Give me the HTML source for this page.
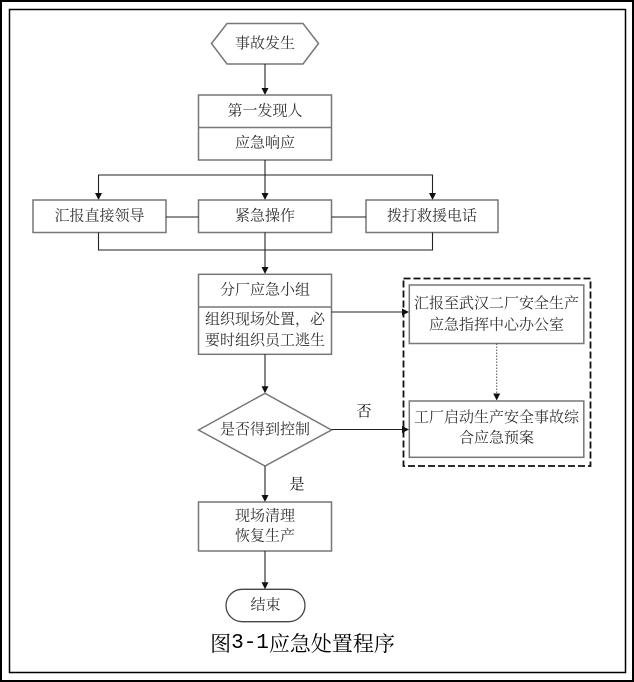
<!DOCTYPE html>
<html>
<head>
<meta charset="utf-8">
<style>
  html, body { margin: 0; padding: 0; background: #fff; }
  body { width: 634px; height: 682px; overflow: hidden; }
  svg { display: block; }
  .t { font-family: "Liberation Serif", "Noto Serif CJK SC", "Noto Sans CJK SC", serif; font-size: 15px; fill: #333; }
  .lbl { font-family: "Liberation Serif", "Noto Serif CJK SC", serif; font-size: 15px; fill: #111; }
  .cap { font-family: "Noto Serif CJK SC", "Liberation Serif", serif; font-size: 21px; fill: #000; }
  .mono { font-family: "Liberation Mono", monospace; }
  .box { fill: #fff; stroke: #777; stroke-width: 1.5; }
  .ln { stroke: #222; stroke-width: 1.1; fill: none; }
  .ah { fill: #111; }
</style>
</head>
<body>
<svg width="634" height="682" viewBox="0 0 634 682" xmlns="http://www.w3.org/2000/svg">
  <!-- frames -->
  <rect x="1" y="1" width="632" height="680" fill="none" stroke="#000" stroke-width="2"/>
  <rect x="9.5" y="9.5" width="616" height="663" fill="none" stroke="#000" stroke-width="1.5"/>

  <!-- start hexagon -->
  <polygon class="box" points="211.5,43.5 227,23.5 303,23.5 318.5,43.5 303,64 227,64"/>
  <text class="t" x="265" y="44" text-anchor="middle" dominant-baseline="central">事故发生</text>

  <!-- arrow to box1 -->
  <line class="ln" x1="265" y1="64" x2="265" y2="90"/>
  <polygon class="ah" points="265,95 261.5,88 268.5,88"/>

  <!-- box1 -->
  <rect class="box" x="198.5" y="95" width="133" height="65"/>
  <line x1="198.5" y1="127.5" x2="331.5" y2="127.5" stroke="#777" stroke-width="1.5"/>
  <text class="t" x="265" y="111.5" text-anchor="middle" dominant-baseline="central">第一发现人</text>
  <text class="t" x="265" y="143.5" text-anchor="middle" dominant-baseline="central">应急响应</text>

  <!-- split -->
  <line class="ln" x1="265" y1="160" x2="265" y2="195"/>
  <polygon class="ah" points="265,200 261.5,193 268.5,193"/>
  <polyline class="ln" points="98.5,195 98.5,175 432.5,175 432.5,195"/>
  <polygon class="ah" points="98.5,200 95,193 102,193"/>
  <polygon class="ah" points="432.5,200 429,193 436,193"/>

  <!-- row boxes -->
  <rect class="box" x="33" y="200" width="133" height="32.5"/>
  <rect class="box" x="198.5" y="200" width="133" height="32.5"/>
  <rect class="box" x="366" y="200" width="132" height="32.5"/>
  <text class="t" x="99.5" y="216.5" text-anchor="middle" dominant-baseline="central">汇报直接领导</text>
  <text class="t" x="265" y="216.5" text-anchor="middle" dominant-baseline="central">紧急操作</text>
  <text class="t" x="432" y="216.5" text-anchor="middle" dominant-baseline="central">拨打救援电话</text>
  <line class="ln" x1="166" y1="217" x2="198.5" y2="217"/>
  <line class="ln" x1="331.5" y1="217" x2="366" y2="217"/>

  <!-- merge -->
  <polyline class="ln" points="98.5,232.5 98.5,250 432.5,250 432.5,232.5"/>
  <line class="ln" x1="265" y1="232.5" x2="265" y2="269"/>
  <polygon class="ah" points="265,274 261.5,267 268.5,267"/>

  <!-- box2 -->
  <rect class="box" x="198.5" y="274.3" width="133" height="80"/>
  <line x1="198.5" y1="307" x2="331.5" y2="307" stroke="#777" stroke-width="1.5"/>
  <text class="t" x="265" y="290.5" text-anchor="middle" dominant-baseline="central">分厂应急小组</text>
  <text class="t" x="265" y="320" text-anchor="middle" dominant-baseline="central">组织现场处置，必</text>
  <text class="t" x="265" y="341" text-anchor="middle" dominant-baseline="central">要时组织员工逃生</text>

  <!-- arrow to right group -->
  <line class="ln" x1="331.5" y1="312" x2="404" y2="312"/>
  <polygon class="ah" points="409,312 402,308.5 402,315.5"/>

  <!-- dashed group -->
  <rect x="403.5" y="278.5" width="187" height="187.5" fill="none" stroke="#111" stroke-width="1.8" stroke-dasharray="7 3"/>
  <rect class="box" x="409.3" y="285" width="174.5" height="58.5"/>
  <text class="t" x="496.5" y="304" text-anchor="middle" dominant-baseline="central">汇报至武汉二厂安全生产</text>
  <text class="t" x="496.5" y="325.5" text-anchor="middle" dominant-baseline="central">应急指挥中心办公室</text>
  <line x1="496.7" y1="343.5" x2="496.7" y2="395" stroke="#555" stroke-width="1" stroke-dasharray="1.5 1.5"/>
  <polygon class="ah" points="496.7,400.5 493.2,393.5 500.2,393.5"/>
  <rect class="box" x="409.3" y="401" width="174.5" height="56.3"/>
  <text class="t" x="496.5" y="418" text-anchor="middle" dominant-baseline="central">工厂启动生产安全事故综</text>
  <text class="t" x="496.5" y="438.5" text-anchor="middle" dominant-baseline="central">合应急预案</text>

  <!-- to diamond -->
  <line class="ln" x1="265" y1="354.3" x2="265" y2="388"/>
  <polygon class="ah" points="265,393.3 261.5,386.3 268.5,386.3"/>
  <polygon class="box" points="198.5,430 265,393.3 331.5,430 265,466"/>
  <text class="t" x="265" y="430" text-anchor="middle" dominant-baseline="central">是否得到控制</text>

  <!-- no branch -->
  <line class="ln" x1="331.5" y1="429.5" x2="404" y2="429.5"/>
  <polygon class="ah" points="409,429.5 402,426 402,433"/>
  <text class="lbl" x="364" y="412" text-anchor="middle" dominant-baseline="central">否</text>

  <!-- yes branch -->
  <line class="ln" x1="265" y1="466" x2="265" y2="497"/>
  <polygon class="ah" points="265,502 261.5,495 268.5,495"/>
  <text class="lbl" x="297" y="485" text-anchor="middle" dominant-baseline="central">是</text>

  <!-- box3 -->
  <rect class="box" x="198.5" y="502" width="133" height="49"/>
  <text class="t" x="265" y="516.5" text-anchor="middle" dominant-baseline="central">现场清理</text>
  <text class="t" x="265" y="536.5" text-anchor="middle" dominant-baseline="central">恢复生产</text>

  <!-- to end -->
  <line class="ln" x1="265" y1="551" x2="265" y2="584"/>
  <polygon class="ah" points="265,589.3 261.5,582.3 268.5,582.3"/>
  <rect x="226" y="589.3" width="79" height="32.4" rx="16.2" ry="16.2" fill="#fff" stroke="#444" stroke-width="1.3"/>
  <text class="t" x="265.5" y="605.5" text-anchor="middle" dominant-baseline="central">结束</text>

  <!-- caption -->
  <text class="cap" x="302.5" y="643" text-anchor="middle" dominant-baseline="central">图<tspan class="mono">3-1</tspan>应急处置程序</text>
</svg>
</body>
</html>
